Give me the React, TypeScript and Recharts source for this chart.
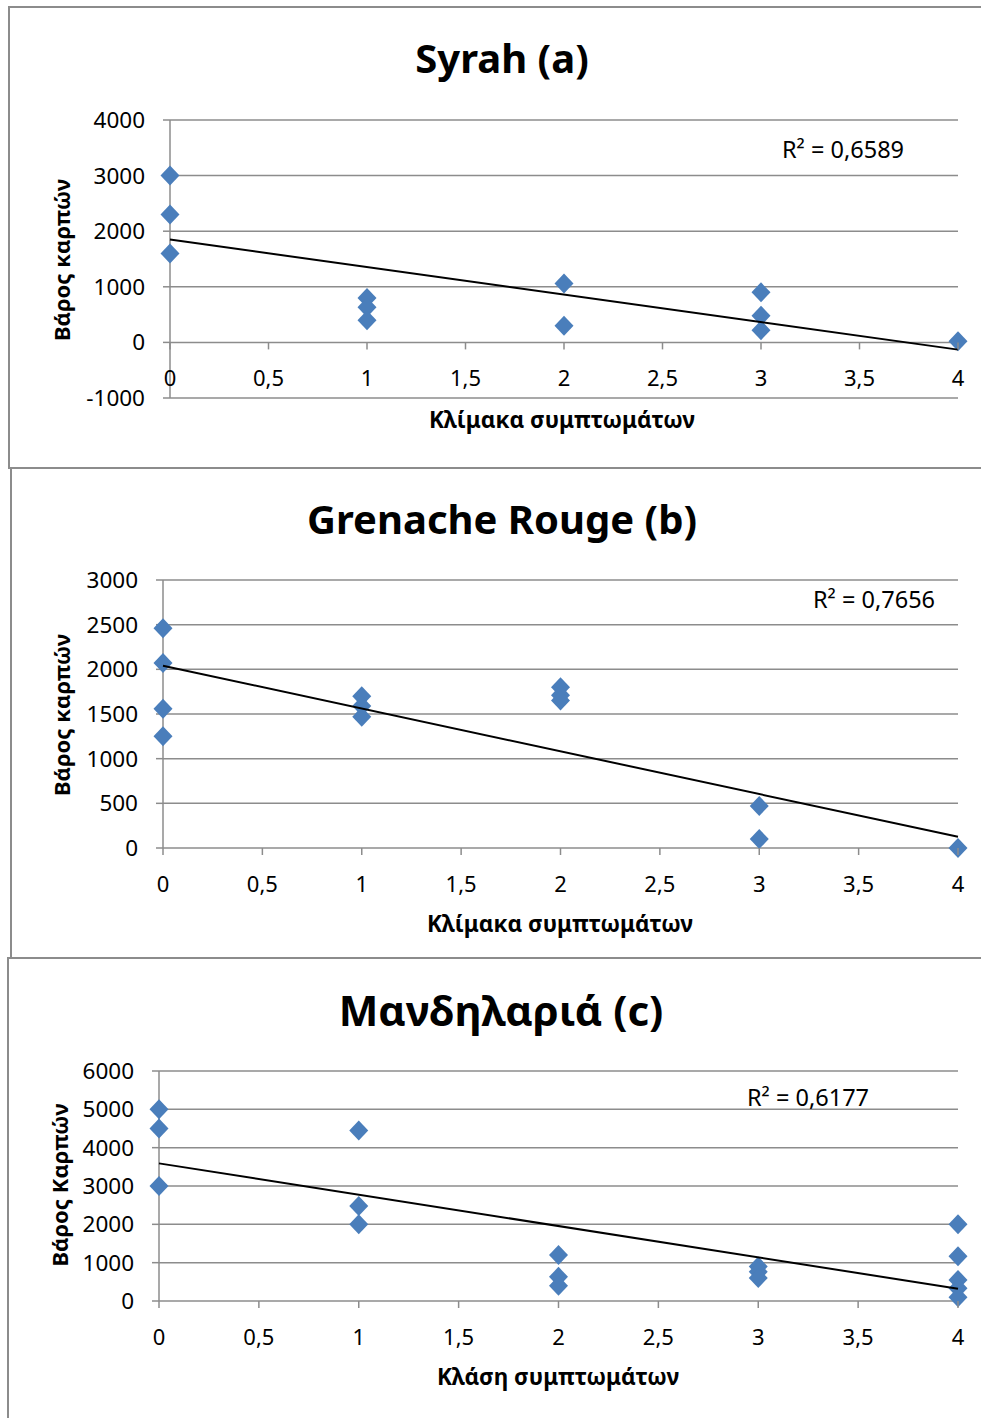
import React from 'react';
import { ScatterChart, Scatter, XAxis, YAxis, CartesianGrid } from 'recharts';

// ---------- data ----------
const xTicks = [0, 0.5, 1, 1.5, 2, 2.5, 3, 3.5, 4];
const xTickLabels = ['0', '0,5', '1', '1,5', '2', '2,5', '3', '3,5', '4'];
const trendClass = [0, 4];

const syrahClass = [0, 0, 0, 1, 1, 1, 2, 2, 3, 3, 3, 4];
const syrahWeight = [3000, 2300, 1600, 800, 630, 400, 1060, 300, 900, 480, 220, 20];
const syrahTrend = [1850, -130];
const syrahYTicks = [-1000, 0, 1000, 2000, 3000, 4000];

const grenacheClass = [0, 0, 0, 0, 1, 1, 1, 2, 2, 2, 3, 3, 4];
const grenacheWeight = [2460, 2070, 1560, 1250, 1700, 1590, 1470, 1800, 1710, 1650, 470, 100, 0];
const grenacheTrend = [2040, 125];
const grenacheYTicks = [0, 500, 1000, 1500, 2000, 2500, 3000];

const mandClass = [0, 0, 0, 1, 1, 1, 2, 2, 2, 3, 3, 3, 4, 4, 4, 4, 4];
const mandWeight = [5000, 4500, 3000, 4450, 2480, 2000, 1200, 630, 400, 900, 760, 600, 2000, 1170, 550, 330, 100];
const mandTrend = [3590, 320];
const mandYTicks = [0, 1000, 2000, 3000, 4000, 5000, 6000];

// ---------- styles ----------
const FONT = '"Noto Sans", "DejaVu Sans", sans-serif';
const GRID = '#8c8c8c';
const MARK = '#4a7ebb';

const toPoints = (xs: number[], ys: number[]) => xs.map((x, i) => ({ x, y: ys[i] }));

const Diamond = (props: any) => {
  const { cx, cy } = props;
  if (cx == null || cy == null) return <g />;
  const w = 9.5;
  const h = 10;
  return <polygon points={`${cx},${cy - h} ${cx + w},${cy} ${cx},${cy + h} ${cx - w},${cy}`} fill={MARK} />;
};

const Empty = () => <g />;

const makeXTick = (zeroOffset: number) => (props: any) => {
  const { x, y, payload } = props;
  const zy = y - zeroOffset;
  const idx = xTicks.indexOf(payload.value);
  return (
    <g>
      <line x1={x} x2={x} y1={zy} y2={zy + 7} stroke={GRID} strokeWidth={1.5} />
      <text x={x} y={zy + 35} textAnchor="middle" dominantBaseline="central" fontSize={22} fontFamily={FONT} fill="#000">
        {idx >= 0 ? xTickLabels[idx] : payload.value}
      </text>
    </g>
  );
};

type PanelProps = {
  top: number;
  height: number;
  plotLeft: number;
  plotTop: number;
  plotBottom: number;
  yTicks: number[];
  classes: number[];
  weights: number[];
  trend: number[];
};

const Panel = ({ top, height, plotLeft, plotTop, plotBottom, yTicks, classes, weights, trend }: PanelProps) => {
  const YW = 80;
  const XH = 30;
  const plotRight = 958;
  const ymin = yTicks[0];
  const ymax = yTicks[yTicks.length - 1];
  const plotH = plotBottom - plotTop;
  const zeroOffset = (plotH * (0 - ymin)) / (ymax - ymin);
  const margin = {
    top: plotTop - top,
    left: plotLeft - YW,
    right: 981 - plotRight,
    bottom: height - (plotBottom - top) - XH,
  };
  return (
    <div style={{ position: 'absolute', left: 0, top, width: 981, height }}>
      <ScatterChart width={981} height={height} margin={margin}>
        <CartesianGrid vertical={false} stroke={GRID} strokeWidth={1.5} />
        <XAxis
          type="number"
          dataKey="x"
          domain={[0, 4]}
          ticks={xTicks}
          height={XH}
          axisLine={false}
          tickLine={false}
          tickSize={0}
          tickMargin={0}
          interval={0}
          tick={makeXTick(zeroOffset)}
        />
        <YAxis
          type="number"
          dataKey="y"
          domain={[ymin, ymax]}
          ticks={yTicks}
          width={YW}
          interval={0}
          axisLine={{ stroke: GRID, strokeWidth: 1.5 }}
          tickLine={{ stroke: GRID, strokeWidth: 1.5 }}
          tickSize={7}
          tickMargin={18}
          tick={{ fontSize: 22.5, fontFamily: FONT, fill: '#000' }}
        />
        <Scatter data={toPoints(classes, weights)} shape={Diamond} isAnimationActive={false} />
        <Scatter
          data={toPoints(trendClass, trend)}
          shape={Empty}
          line={{ stroke: '#000', strokeWidth: 2 }}
          isAnimationActive={false}
        />
      </ScatterChart>
    </div>
  );
};

const Txt = ({ x, y, size, bold, children, anchor = 'center', rotate = false }: any) => (
  <div
    style={{
      position: 'absolute',
      left: x,
      top: y,
      transform: `translate(${anchor === 'left' ? '0' : '-50%'}, -50%)${rotate ? ' rotate(-90deg)' : ''}`,
      fontFamily: FONT,
      fontSize: size,
      fontWeight: bold ? 700 : 400,
      lineHeight: 1,
      whiteSpace: 'nowrap',
      color: '#000',
    }}
  >
    {children}
  </div>
);

const Box = ({ left, top, bottom }: { left: number; top: number; bottom: number }) => (
  <div
    style={{
      position: 'absolute',
      left,
      top,
      width: 1000 - left,
      height: bottom - top,
      border: `2px solid ${GRID}`,
      boxSizing: 'border-box',
    }}
  />
);

export default function App() {
  return (
    <div style={{ position: 'absolute', left: 0, top: 0, width: 981, height: 1418, overflow: 'hidden', background: '#fff' }}>
      <Box left={8} top={6} bottom={469} />
      <Box left={10} top={467} bottom={959} />
      <Box left={7} top={957} bottom={1440} />

      <Panel top={0} height={468} plotLeft={170} plotTop={120} plotBottom={398} yTicks={syrahYTicks} classes={syrahClass} weights={syrahWeight} trend={syrahTrend} />
      <Panel top={468} height={490} plotLeft={163} plotTop={580} plotBottom={848} yTicks={grenacheYTicks} classes={grenacheClass} weights={grenacheWeight} trend={grenacheTrend} />
      <Panel top={958} height={460} plotLeft={159} plotTop={1071} plotBottom={1301} yTicks={mandYTicks} classes={mandClass} weights={mandWeight} trend={mandTrend} />

      <Txt x={502} y={58} size={40} bold>Syrah (a)</Txt>
      <Txt x={782} y={150} size={23.5} anchor="left">R² = 0,6589</Txt>
      <Txt x={562} y={420} size={22.5} bold>Κλίμακα συμπτωμάτων</Txt>
      <Txt x={61} y={260} size={22} bold rotate>Βάρος καρπών</Txt>

      <Txt x={502} y={519} size={40} bold>Grenache Rouge (b)</Txt>
      <Txt x={813} y={600} size={23.5} anchor="left">R² = 0,7656</Txt>
      <Txt x={560} y={924} size={22.5} bold>Κλίμακα συμπτωμάτων</Txt>
      <Txt x={61} y={715} size={22} bold rotate>Βάρος καρπών</Txt>

      <Txt x={501} y={1010} size={42} bold>Μανδηλαριά (c)</Txt>
      <Txt x={747} y={1098} size={23.5} anchor="left">R² = 0,6177</Txt>
      <Txt x={558} y={1377} size={22.5} bold>Κλάση συμπτωμάτων</Txt>
      <Txt x={59} y={1185} size={22} bold rotate>Βάρος Καρπών</Txt>
    </div>
  );
}
